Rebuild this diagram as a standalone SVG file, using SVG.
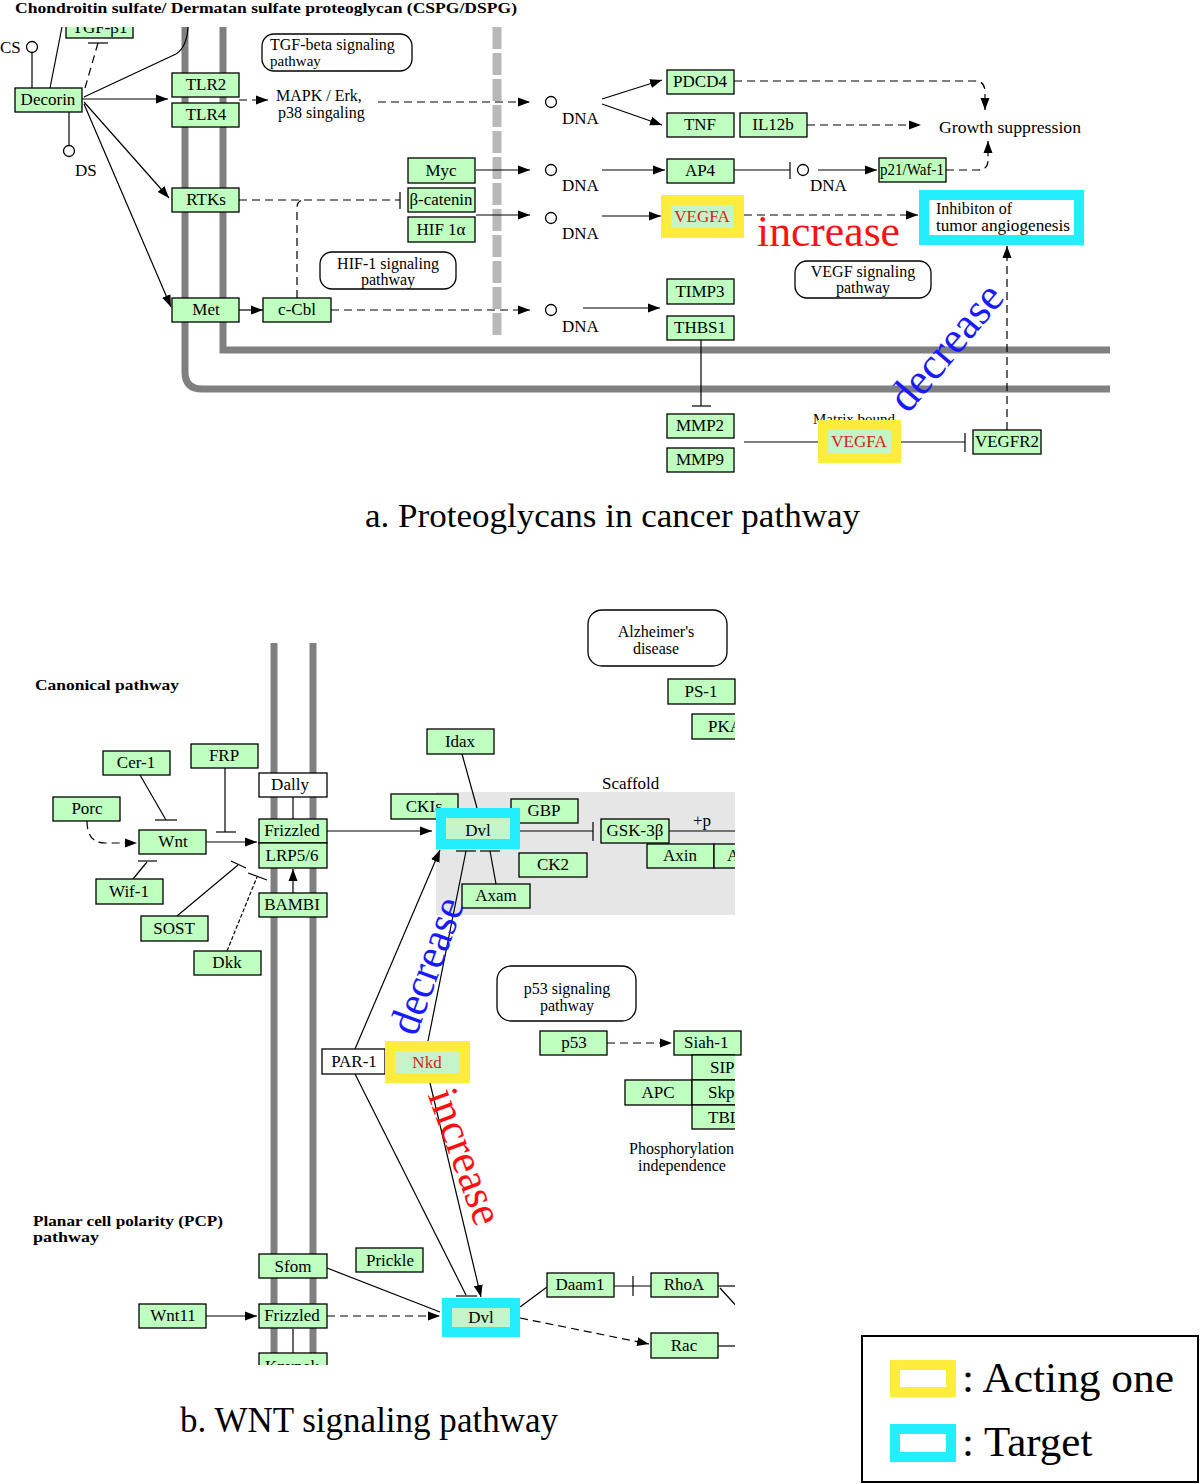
<svg xmlns="http://www.w3.org/2000/svg" width="1200" height="1484" viewBox="0 0 1200 1484">
<defs>
<style>
text{font-family:"Liberation Serif","Times New Roman",serif;fill:#000}
.g{fill:#bfffbf;stroke:#000;stroke-width:1.3}
.w{fill:#fff;stroke:#000;stroke-width:1.3}
.t{font-size:17px;text-anchor:middle}
.ts{font-size:17px}
.c{fill:none;stroke:#000;stroke-width:1.2}
.d{stroke-dasharray:8 5}
.mem{fill:none;stroke:#808080;stroke-width:7}
.yl{fill:#ffec3d}
.cy{fill:#22eeff}
.in{fill:#c4f4c8}
.red{fill:#e01818}
.pw{fill:#fff;stroke:#000;stroke-width:1.3}
.b{font-weight:bold;font-size:15px}
.dna{fill:#fff;stroke:#000;stroke-width:1.3}
.dt{font-size:17px}
</style>
<marker id="ah" viewBox="0 0 12 10" refX="12" refY="5" markerWidth="12" markerHeight="10" markerUnits="userSpaceOnUse" orient="auto"><path d="M0,0.5 L12,5 L0,9.5z" fill="#000"/></marker>
<clipPath id="clipTop"><rect x="0" y="27" width="1200" height="500"/></clipPath>
<clipPath id="clipB"><rect x="0" y="600" width="735" height="765"/></clipPath>
</defs>
<rect x="0" y="0" width="1200" height="1484" fill="#fff"/>

<!-- ============ PART A ============ -->
<text x="15" y="13" class="b" textLength="502" lengthAdjust="spacingAndGlyphs">Chondroitin sulfate/ Dermatan sulfate proteoglycan (CSPG/DSPG)</text>

<g id="membrane-a">
<path class="mem" d="M185,27 L185,372 Q185,389 202,389 L1110,389"/>
<path class="mem" d="M223,27 L223,350 L1110,350"/>
<path d="M497,27 L497,337" fill="none" stroke="#b8b8b8" stroke-width="9" stroke-dasharray="22 4"/>
</g>

<g id="pathway-boxes-a">
<g id="p-tgfbeta"><rect class="pw" x="262" y="34" width="150" height="37" rx="12"/><text class="ts" x="270" y="50" style="font-size:16px">TGF-beta signaling</text><text class="ts" x="270" y="66" style="font-size:15px">pathway</text></g>
<g id="p-hif1"><rect class="pw" x="320" y="252" width="136" height="37" rx="12"/><text class="t" x="388" y="269" style="font-size:16px">HIF-1 signaling</text><text class="t" x="388" y="285" style="font-size:16px">pathway</text></g>
<g id="p-vegf"><rect class="pw" x="795" y="261" width="136" height="37" rx="12"/><text class="t" x="863" y="277" style="font-size:16px">VEGF signaling</text><text class="t" x="863" y="293" style="font-size:16px">pathway</text></g>
</g>

<g id="connectors-a">
<line class="c" x1="32" y1="88" x2="32" y2="53"/>
<line class="c" x1="69" y1="112" x2="69" y2="145"/>
<path class="c" d="M50,88 L62,27"/>
<path class="c d" d="M85,88 L98,43" stroke-dasharray="4 3"/>
<line class="c" x1="88" y1="43" x2="108" y2="43" stroke-width="1.5"/>
<path class="c" d="M84,97 L176,54 Q187,47 188,27"/>
<path class="c" d="M82,99 L168,99" marker-end="url(#ah)"/>
<path class="c d" d="M239,100 L268,100" marker-end="url(#ah)"/>
<path class="c d" d="M378,102 L530,102" marker-end="url(#ah)"/>
<path class="c" d="M84,102 L169,198" marker-end="url(#ah)"/>
<path class="c" d="M84,104 L171,307" marker-end="url(#ah)"/>
<path class="c" d="M239,310 L263,310" marker-end="url(#ah)"/>
<path class="c d" d="M331,310 L530,310" marker-end="url(#ah)"/>
<path class="c d" d="M297,298 L297,208 Q297,200 305,200"/>
<path class="c d" d="M239,200 L400,200"/>
<line class="c" x1="400" y1="192" x2="400" y2="209" stroke-width="1.5"/>
<path class="c" d="M476,170 L530,170" marker-end="url(#ah)"/>
<path class="c" d="M476,215 L530,215" marker-end="url(#ah)"/>
<path class="c" d="M602,99 L662,80" marker-end="url(#ah)"/>
<path class="c" d="M602,104 L662,125" marker-end="url(#ah)"/>
<path class="c" d="M602,170 L665,170" marker-end="url(#ah)"/>
<path class="c" d="M602,216 L661,216" marker-end="url(#ah)"/>
<path class="c" d="M583,308 L660,308" marker-end="url(#ah)"/>
<path class="c" d="M734,170 L790,170"/>
<line class="c" x1="790" y1="162" x2="790" y2="179" stroke-width="1.5"/>
<path class="c" d="M818,170 L877,170" marker-end="url(#ah)"/>
<path class="c d" d="M734,81 L975,81 Q985,81 985,92 L985,110" marker-end="url(#ah)"/>
<path class="c d" d="M807,125 L921,125" marker-end="url(#ah)"/>
<path class="c d" d="M946,170 L978,170 Q988,170 988,160 L988,141" marker-end="url(#ah)"/>
<path class="c d" d="M744,215 L918,215" marker-end="url(#ah)"/>
<path class="c" d="M701,340 L701,406"/>
<line class="c" x1="692" y1="406" x2="711" y2="406" stroke-width="1.5"/>
<path class="c" d="M744,442 L818,442"/>
<path class="c" d="M901,442 L965,442"/>
<line class="c" x1="965" y1="433" x2="965" y2="452" stroke-width="1.5"/>
<path class="c d" d="M1007,430 L1007,246" marker-end="url(#ah)"/>
</g>

<g id="n-cs"><circle class="dna" cx="32" cy="47" r="5.5"/><text class="ts" x="0" y="53">CS</text></g>
<g id="n-ds"><circle class="dna" cx="69" cy="151" r="5.5"/><text class="ts" x="75" y="176">DS</text></g>
<g id="n-tgfb1" clip-path="url(#clipTop)"><rect class="g" x="66" y="14" width="67" height="24"/><text class="t" x="100" y="33">TGF-β1</text></g>
<g id="n-decorin"><rect class="g" x="15" y="88" width="67" height="24"/><text class="t" x="48" y="105">Decorin</text></g>
<g id="n-tlr2"><rect class="g" x="172" y="73" width="67" height="24"/><text class="t" x="206" y="90">TLR2</text></g>
<g id="n-tlr4"><rect class="g" x="172" y="103" width="67" height="24"/><text class="t" x="206" y="120">TLR4</text></g>
<g id="n-mapk"><text class="ts" x="276" y="101" style="font-size:16px">MAPK / Erk,</text><text class="ts" x="278" y="118" style="font-size:16px">p38 singaling</text></g>
<g id="n-rtks"><rect class="g" x="172" y="188" width="67" height="24"/><text class="t" x="206" y="205">RTKs</text></g>
<g id="n-met"><rect class="g" x="172" y="298" width="67" height="24"/><text class="t" x="206" y="315">Met</text></g>
<g id="n-ccbl"><rect class="g" x="263" y="298" width="68" height="24"/><text class="t" x="297" y="315">c-Cbl</text></g>
<g id="n-myc"><rect class="g" x="408" y="158" width="67" height="25"/><text class="t" x="441" y="176">Myc</text></g>
<g id="n-bcat"><rect class="g" x="408" y="188" width="67" height="24"/><text class="t" x="441" y="205" textLength="63" lengthAdjust="spacingAndGlyphs">β-catenin</text></g>
<g id="n-hif1a"><rect class="g" x="408" y="217" width="67" height="25"/><text class="t" x="441" y="235">HIF 1α</text></g>
<g id="n-dna1"><circle class="dna" cx="551" cy="102" r="5.5"/><text class="dt" x="562" y="124">DNA</text></g>
<g id="n-dna2"><circle class="dna" cx="551" cy="170" r="5.5"/><text class="dt" x="562" y="191">DNA</text></g>
<g id="n-dna3"><circle class="dna" cx="551" cy="218" r="5.5"/><text class="dt" x="562" y="239">DNA</text></g>
<g id="n-dna4"><circle class="dna" cx="551" cy="310" r="5.5"/><text class="dt" x="562" y="332">DNA</text></g>
<g id="n-dna5"><circle class="dna" cx="803" cy="170" r="5.5"/><text class="dt" x="810" y="191">DNA</text></g>
<g id="n-pdcd4"><rect class="g" x="667" y="70" width="67" height="24"/><text class="t" x="700" y="87">PDCD4</text></g>
<g id="n-tnf"><rect class="g" x="667" y="113" width="67" height="24"/><text class="t" x="700" y="130">TNF</text></g>
<g id="n-il12b"><rect class="g" x="740" y="113" width="67" height="24"/><text class="t" x="773" y="130">IL12b</text></g>
<g id="n-ap4"><rect class="g" x="667" y="159" width="67" height="24"/><text class="t" x="700" y="176">AP4</text></g>
<g id="n-vegfa1"><rect class="yl" x="661" y="195" width="83" height="43"/><rect class="in" x="671" y="205" width="63" height="23"/><text class="t red" x="702" y="222">VEGFA</text></g>
<g id="n-timp3"><rect class="g" x="667" y="279" width="67" height="25"/><text class="t" x="700" y="297">TIMP3</text></g>
<g id="n-thbs1"><rect class="g" x="667" y="316" width="67" height="24"/><text class="t" x="700" y="333">THBS1</text></g>
<g id="n-p21"><rect class="g" x="879" y="158" width="67" height="24"/><text class="t" x="912" y="175" textLength="64" lengthAdjust="spacingAndGlyphs">p21/Waf-1</text></g>
<g id="n-growth"><text class="ts" x="939" y="133" textLength="142" lengthAdjust="spacingAndGlyphs">Growth suppression</text></g>
<g id="n-inhib"><rect x="924" y="195" width="155" height="45" fill="#fff" stroke="#22eeff" stroke-width="10"/><text class="ts" x="936" y="214" style="font-size:16px">Inhibiton of</text><text class="ts" x="936" y="231" style="font-size:16px" textLength="134" lengthAdjust="spacingAndGlyphs">tumor angiogenesis</text></g>
<g id="n-mmp2"><rect class="g" x="667" y="414" width="67" height="24"/><text class="t" x="700" y="431">MMP2</text></g>
<g id="n-mmp9"><rect class="g" x="667" y="448" width="67" height="24"/><text class="t" x="700" y="465">MMP9</text></g>
<g id="n-vegfa2"><text class="ts" x="813" y="424" style="font-size:15px">Matrix bound</text><rect class="yl" x="818" y="420" width="83" height="43"/><rect class="in" x="828" y="430" width="63" height="23"/><text class="t red" x="859" y="447">VEGFA</text></g>
<g id="n-vegfr2"><rect class="g" x="973" y="430" width="68" height="24"/><text class="t" x="1007" y="447" textLength="64" lengthAdjust="spacingAndGlyphs">VEGFR2</text></g>

<g id="labels-a">
<text x="757" y="246" font-size="44" style="fill:#ff1010" textLength="143" lengthAdjust="spacingAndGlyphs">increase</text>
<text transform="translate(947,348) rotate(-50)" x="0" y="13" font-size="44" text-anchor="middle" style="fill:#1a1aff" textLength="152" lengthAdjust="spacingAndGlyphs">decrease</text>
<text x="365" y="527" font-size="34" textLength="495" lengthAdjust="spacingAndGlyphs">a. Proteoglycans in cancer pathway</text>
</g>

<!-- ============ PART B ============ -->
<g id="membrane-b">
<line class="mem" x1="274" y1="643" x2="274" y2="1365"/>
<line class="mem" x1="313" y1="643" x2="313" y2="1365"/>
</g>
<g id="scaffold" clip-path="url(#clipB)"><rect x="436" y="792" width="320" height="123" fill="#e6e6e6"/><text class="ts" x="602" y="789">Scaffold</text></g>

<text x="35" y="690" class="b" textLength="144" lengthAdjust="spacingAndGlyphs">Canonical pathway</text>
<text x="33" y="1226" class="b" textLength="190" lengthAdjust="spacingAndGlyphs">Planar cell polarity (PCP)</text>
<text x="33" y="1242" class="b" textLength="66" lengthAdjust="spacingAndGlyphs">pathway</text>

<g id="p-alz"><rect class="pw" x="588" y="610" width="139" height="56" rx="14"/><text class="t" x="656" y="637" style="font-size:16px">Alzheimer's</text><text class="t" x="656" y="654" style="font-size:16px">disease</text></g>
<g id="p-p53"><rect class="pw" x="497" y="966" width="139" height="55" rx="14"/><text class="t" x="567" y="994" style="font-size:16px">p53 signaling</text><text class="t" x="567" y="1011" style="font-size:16px">pathway</text></g>

<g id="connectors-b">
<path class="c d" d="M87,821 Q87,843 105,843 L137,843" marker-end="url(#ah)"/>
<path class="c" d="M140,775 L166,820"/>
<line class="c" x1="155" y1="820" x2="177" y2="820" stroke-width="1.5"/>
<path class="c" d="M225,768 L225,832"/>
<line class="c" x1="216" y1="832" x2="236" y2="832" stroke-width="1.5"/>
<path class="c" d="M206,842 L257,842" marker-end="url(#ah)"/>
<path class="c" d="M133,879 L147,862"/>
<line class="c" x1="138" y1="861" x2="157" y2="861" stroke-width="1.5"/>
<path class="c" d="M177,916 L238,865"/>
<line class="c" x1="231" y1="861" x2="246" y2="868" stroke-width="1.5"/>
<path class="c" d="M227,951 L257,877" stroke-dasharray="4 2"/>
<line class="c" x1="248" y1="873" x2="267" y2="880" stroke-width="1.5"/>
<path class="c" d="M293,797 L293,819"/>
<path class="c" d="M293,893 L293,869" marker-end="url(#ah)"/>
<path class="c" d="M327,831 L432,831" marker-end="url(#ah)"/>
<path class="c" d="M462,754 L477,808"/>
<path class="c" d="M490,851 L496,884"/>
<path class="c" d="M428,1041 L466,851"/>
<line class="c" x1="456" y1="851" x2="476" y2="851" stroke-width="1.5"/>
<line class="c" x1="480" y1="851" x2="500" y2="851" stroke-width="1.5"/>
<path class="c" d="M355,1049 L440,850" marker-end="url(#ah)"/>
<path class="c" d="M520,831 L593,831"/>
<line class="c" x1="593" y1="822" x2="593" y2="841" stroke-width="1.5"/>
<path class="c d" d="M607,1043 L672,1043" marker-end="url(#ah)"/>
<path class="c" d="M355,1074 L466,1295"/>
<line class="c" x1="456" y1="1296" x2="477" y2="1296" stroke-width="1.5"/>
<path class="c" d="M430,1083 L481,1297" marker-end="url(#ah)"/>
<path class="c" d="M206,1316 L257,1316" marker-end="url(#ah)"/>
<path class="c" d="M293,1329 L293,1353"/>
<path class="c" d="M327,1268 L440,1312"/>
<path class="c d" d="M327,1316 L440,1316" marker-end="url(#ah)"/>
<path class="c" d="M520,1307 L547,1287"/>
<path class="c" d="M614,1286 L651,1286"/>
<line class="c" x1="633" y1="1276" x2="633" y2="1296" stroke-width="1.5"/>
<path class="c d" d="M520,1318 L649,1344" stroke-dasharray="6 3" marker-end="url(#ah)"/>
<g clip-path="url(#clipB)">
<path class="c" d="M669,831 L740,831"/>
<path class="c" d="M718,1286 L740,1286"/>
<path class="c" d="M720,1288 L740,1310"/>
<path class="c" d="M718,1346 L740,1346"/>
</g>
</g>

<g id="n-cer1"><rect class="g" x="103" y="751" width="67" height="24"/><text class="t" x="136" y="768">Cer-1</text></g>
<g id="n-frp"><rect class="g" x="191" y="744" width="67" height="24"/><text class="t" x="224" y="761">FRP</text></g>
<g id="n-dally"><rect class="w" x="259" y="773" width="68" height="24"/><text class="t" x="290" y="790">Dally</text></g>
<g id="n-porc"><rect class="g" x="53" y="797" width="67" height="24"/><text class="t" x="87" y="814">Porc</text></g>
<g id="n-wnt"><rect class="g" x="139" y="830" width="67" height="24"/><text class="t" x="173" y="847">Wnt</text></g>
<g id="n-frizzled"><rect class="g" x="259" y="819" width="68" height="24"/><text class="t" x="292" y="836">Frizzled</text></g>
<g id="n-lrp"><rect class="g" x="259" y="843" width="68" height="25"/><text class="t" x="292" y="861">LRP5/6</text></g>
<g id="n-wif1"><rect class="g" x="96" y="879" width="67" height="25"/><text class="t" x="129" y="897">Wif-1</text></g>
<g id="n-bambi"><rect class="g" x="259" y="893" width="68" height="24"/><text class="t" x="292" y="910">BAMBI</text></g>
<g id="n-sost"><rect class="g" x="141" y="916" width="67" height="25"/><text class="t" x="174" y="934">SOST</text></g>
<g id="n-dkk"><rect class="g" x="194" y="951" width="67" height="24"/><text class="t" x="227" y="968">Dkk</text></g>
<g id="n-idax"><rect class="g" x="427" y="729" width="67" height="25"/><text class="t" x="460" y="747">Idax</text></g>
<g id="n-ps1"><rect class="g" x="668" y="679" width="67" height="25"/><text class="t" x="701" y="697">PS-1</text></g>
<g id="n-pka" clip-path="url(#clipB)"><rect class="g" x="692" y="714" width="67" height="25"/><text class="ts" x="708" y="732">PKA</text></g>
<g id="n-ckie"><rect class="g" x="391" y="794" width="67" height="25"/><text class="t" x="424" y="812">CKIε</text></g>
<g id="n-gbp"><rect class="g" x="511" y="799" width="67" height="24"/><text class="t" x="544" y="816">GBP</text></g>
<g id="n-dvl1"><rect class="cy" x="436" y="808" width="84" height="41"/><rect class="in" x="446" y="818" width="64" height="21"/><text class="t" x="478" y="836">Dvl</text></g>
<g id="n-gsk"><rect class="g" x="601" y="819" width="68" height="24"/><text class="t" x="635" y="836">GSK-3β</text><text class="ts" x="693" y="826">+p</text></g>
<g id="n-axin"><rect class="g" x="647" y="844" width="67" height="24"/><text class="t" x="680" y="861">Axin</text></g>
<g id="n-apc1" clip-path="url(#clipB)"><rect class="g" x="714" y="844" width="67" height="24"/><text class="ts" x="727" y="861">A</text></g>
<g id="n-ck2"><rect class="g" x="519" y="853" width="68" height="24"/><text class="t" x="553" y="870">CK2</text></g>
<g id="n-axam"><rect class="g" x="462" y="884" width="68" height="24"/><text class="t" x="496" y="901">Axam</text></g>
<g id="n-p53"><rect class="g" x="540" y="1031" width="67" height="24"/><text class="t" x="574" y="1048">p53</text></g>
<g id="n-siah1"><rect class="g" x="674" y="1031" width="67" height="24"/><text class="ts" x="684" y="1048">Siah-1</text></g>
<g id="n-sip" clip-path="url(#clipB)"><rect class="g" x="692" y="1055" width="67" height="25"/><text class="ts" x="710" y="1073">SIP</text></g>
<g id="n-apc2"><rect class="g" x="625" y="1080" width="67" height="25"/><text class="t" x="658" y="1098">APC</text></g>
<g id="n-skp" clip-path="url(#clipB)"><rect class="g" x="692" y="1080" width="67" height="25"/><text class="ts" x="708" y="1098">Skp</text></g>
<g id="n-tbl" clip-path="url(#clipB)"><rect class="g" x="692" y="1105" width="67" height="24"/><text class="ts" x="708" y="1123">TBL</text></g>
<g id="n-phos" clip-path="url(#clipB)"><text class="ts" x="629" y="1154" style="font-size:16px">Phosphorylation</text><text class="ts" x="638" y="1171" style="font-size:16px">independence</text></g>
<g id="n-par1"><rect class="w" x="322" y="1049" width="63" height="25"/><text class="t" x="354" y="1067">PAR-1</text></g>
<g id="n-nkd"><rect class="yl" x="385" y="1041" width="85" height="42"/><rect class="in" x="395" y="1051" width="65" height="22"/><text class="t red" x="427" y="1068">Nkd</text></g>
<g id="n-sfom"><rect class="g" x="259" y="1254" width="68" height="24"/><text class="t" x="293" y="1272">Sfom</text></g>
<g id="n-prickle"><rect class="g" x="356" y="1248" width="67" height="24"/><text class="t" x="390" y="1266">Prickle</text></g>
<g id="n-wnt11"><rect class="g" x="139" y="1304" width="67" height="24"/><text class="t" x="173" y="1321">Wnt11</text></g>
<g id="n-frizzled2"><rect class="g" x="259" y="1304" width="68" height="24"/><text class="t" x="292" y="1321">Frizzled</text></g>
<g id="n-knypek" clip-path="url(#clipB)"><rect class="g" x="259" y="1353" width="68" height="24"/><text class="t" x="292" y="1372">Knypek</text></g>
<g id="n-dvl2"><rect class="cy" x="442" y="1298" width="78" height="39"/><rect class="in" x="452" y="1308" width="58" height="19"/><text class="t" x="481" y="1323">Dvl</text></g>
<g id="n-daam1"><rect class="g" x="547" y="1273" width="67" height="24"/><text class="t" x="580" y="1290">Daam1</text></g>
<g id="n-rhoa"><rect class="g" x="651" y="1273" width="67" height="24"/><text class="t" x="684" y="1290">RhoA</text></g>
<g id="n-rac"><rect class="g" x="651" y="1333" width="67" height="25"/><text class="t" x="684" y="1351">Rac</text></g>

<g id="labels-b">
<text transform="translate(428,966) rotate(-70)" x="0" y="13" font-size="44" text-anchor="middle" style="fill:#1a1aff" textLength="142" lengthAdjust="spacingAndGlyphs">decrease</text>
<text transform="translate(464,1157) rotate(70)" x="0" y="13" font-size="44" text-anchor="middle" style="fill:#ff1010" textLength="142" lengthAdjust="spacingAndGlyphs">increase</text>
<text x="180" y="1432" font-size="35" textLength="378" lengthAdjust="spacingAndGlyphs">b. WNT signaling pathway</text>
</g>

<g id="legend">
<rect x="862" y="1336" width="336" height="146" fill="#fff" stroke="#000" stroke-width="2"/>
<rect x="895" y="1365" width="56" height="27" fill="#fff" stroke="#ffec3d" stroke-width="10"/>
<text x="962" y="1392" font-size="43" textLength="212" lengthAdjust="spacingAndGlyphs">: Acting one</text>
<rect x="895" y="1429" width="56" height="28" fill="#fff" stroke="#22eeff" stroke-width="10"/>
<text x="962" y="1456" font-size="43">: Target</text>
</g>
</svg>
